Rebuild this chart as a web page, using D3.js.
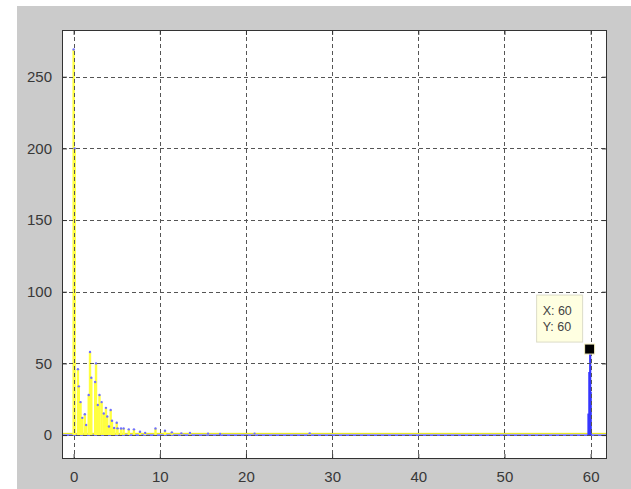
<!DOCTYPE html>
<html>
<head>
    <meta charset="utf-8">
    <title></title>
    <style type="text/css">
        html, body { margin: 0; padding: 0; background: #fff; }
        svg { display: block; }
        text { font-family: "Liberation Sans", Arial, sans-serif; }
    </style>
</head>
<body>
<svg id="svg" width="631" height="489"></svg>

<script src="https://cdn.jsdelivr.net/npm/d3@7/dist/d3.min.js"></script>
<script type="text/javascript">
    // yellow series (stems)
    var yellowX = [0, 0.12, 0.5, 0.6, 0.8, 1.0, 1.3, 1.45, 1.75, 1.9, 2.05, 2.5, 2.6, 2.8, 3.0, 3.25, 3.5, 3.75, 3.9, 4.1, 4.3, 4.45, 4.7, 5.0, 5.1, 5.5, 5.8, 6.4, 7.0, 7.7, 8.3, 9.5, 10.6, 11.4, 12.5, 13.5, 15.6, 17.0, 21.0, 27.4];
    var yellowY = [269, 200, 46, 34, 23, 12, 14.5, 7, 28, 58, 40, 37, 50, 21, 28, 23, 15, 19, 13, 6, 17.5, 10, 5, 8.6, 4.7, 4.6, 4.6, 4, 4, 2.3, 1.5, 4.6, 3, 1.9, 1.2, 1.4, 1, 0.8, 1, 1.2];
    // blue series (spike near 60)
    var blueX = [59.75, 59.85, 59.95, 60.0];
    var blueY = [15, 44, 60, 30];
    // axes
    var xTicks = [0, 10, 20, 30, 40, 50, 60];
    var yTicks = [0, 50, 100, 150, 200, 250];
    var xDomain = [-1.35, 61.9];
    var yDomain = [-16.7, 282.6];
    // data tip
    var tipX = 60, tipY = 60;

    var svg = d3.select('#svg');

    // figure background
    svg.append('rect')
        .attr('x', 17).attr('y', 6)
        .attr('width', 614).attr('height', 483)
        .attr('fill', '#cbcbcb');

    var axL = 62, axR = 607, axT = 30, axB = 459;

    var x = d3.scaleLinear().domain(xDomain).range([axL, axR]);
    var y = d3.scaleLinear().domain(yDomain).range([axB, axT]);

    svg.append('rect')
        .attr('x', axL).attr('y', axT)
        .attr('width', axR - axL).attr('height', axB - axT)
        .attr('fill', '#fff');

    var plot = svg.append('g');

    // baselines
    plot.append('line')
        .attr('x1', axL).attr('x2', axR)
        .attr('y1', y(0) - 1.7).attr('y2', y(0) - 1.7)
        .attr('stroke', '#e6e600').attr('stroke-width', 1);
    plot.append('line')
        .attr('x1', axL).attr('x2', axR)
        .attr('y1', y(0)).attr('y2', y(0))
        .attr('stroke', '#3030ff').attr('stroke-width', 1.2);

    var yellow = yellowX.map((d, i) => ({x: d, y: yellowY[i]}));
    var blue = blueX.map((d, i) => ({x: d, y: blueY[i]}));

    plot.selectAll('.ystem')
        .data(yellow)
        .enter()
        .append('line')
        .attr('class', 'ystem')
        .attr('x1', (d) => x(d.x)).attr('x2', (d) => x(d.x))
        .attr('y1', y(0)).attr('y2', (d) => y(d.y))
        .attr('stroke', '#ffff40').attr('stroke-width', 2.4);

    plot.selectAll('.ydot')
        .data(yellow)
        .enter()
        .append('circle')
        .attr('class', 'ydot')
        .attr('cx', (d) => x(d.x)).attr('cy', (d) => y(d.y))
        .attr('r', 1.2)
        .attr('fill', '#7070ff');

    plot.selectAll('.bstem')
        .data(blue)
        .enter()
        .append('line')
        .attr('class', 'bstem')
        .attr('x1', (d) => x(d.x)).attr('x2', (d) => x(d.x))
        .attr('y1', y(0)).attr('y2', (d) => y(d.y))
        .attr('stroke', '#3636ff').attr('stroke-width', 2.2);

    // grid on top
    var grid = svg.append('g')
        .attr('stroke', '#555').attr('stroke-width', 1)
        .attr('stroke-dasharray', '4,3');
    grid.selectAll('.vg')
        .data(xTicks)
        .enter()
        .append('line')
        .attr('x1', (d) => Math.round(x(d)) + 0.5).attr('x2', (d) => Math.round(x(d)) + 0.5)
        .attr('y1', axT).attr('y2', axB);
    grid.selectAll('.hg')
        .data(yTicks)
        .enter()
        .append('line')
        .attr('y1', (d) => Math.round(y(d)) + 0.5).attr('y2', (d) => Math.round(y(d)) + 0.5)
        .attr('x1', axL).attr('x2', axR);

    // axes: ticks inward, labels outside
    var xAxis = d3.axisBottom(x).tickValues(xTicks).tickSizeInner(-5).tickSizeOuter(0).tickPadding(12);
    var yAxis = d3.axisLeft(y).tickValues(yTicks).tickSizeInner(-5).tickSizeOuter(0).tickPadding(10);
    var xTop = d3.axisTop(x).tickValues(xTicks).tickSizeInner(-5).tickSizeOuter(0).tickFormat('');
    var yRight = d3.axisRight(y).tickValues(yTicks).tickSizeInner(-5).tickSizeOuter(0).tickFormat('');

    function style(g) {
        g.select('.domain').remove();
        g.selectAll('line').attr('stroke', '#333');
        g.selectAll('text').attr('fill', '#383838').style('font-size', '15px')
            .style('font-family', '"Liberation Sans", Arial, sans-serif');
    }
    svg.append('g').attr('transform', `translate(0,${axB})`).call(xAxis).call(style);
    svg.append('g').attr('transform', `translate(${axL},0)`).call(yAxis).call(style);
    svg.append('g').attr('transform', `translate(0,${axT})`).call(xTop).call(style);
    svg.append('g').attr('transform', `translate(${axR},0)`).call(yRight).call(style);

    svg.append('rect')
        .attr('x', axL + 0.5).attr('y', axT + 0.5)
        .attr('width', axR - axL - 1).attr('height', axB - axT - 1)
        .attr('fill', 'none').attr('stroke', '#333').attr('stroke-width', 1);

    // data tip
    var tx = x(tipX), ty = y(tipY);
    var tip = svg.append('g');
    tip.append('rect')
        .attr('x', tx - 54).attr('y', ty - 54)
        .attr('width', 46).attr('height', 47)
        .attr('fill', '#ffffe1').attr('stroke', '#dcdcc8');
    tip.append('text')
        .attr('x', tx - 48).attr('y', ty - 34)
        .attr('fill', '#444').style('font-size', '12.5px')
        .text('X: ' + tipX);
    tip.append('text')
        .attr('x', tx - 48).attr('y', ty - 18)
        .attr('fill', '#444').style('font-size', '12.5px')
        .text('Y: ' + tipY);
    tip.append('rect')
        .attr('x', tx - 6).attr('y', ty - 5)
        .attr('width', 10).attr('height', 10)
        .attr('fill', '#000').attr('stroke', '#f5f0c0').attr('stroke-width', 1);
</script>
</body>
</html>
